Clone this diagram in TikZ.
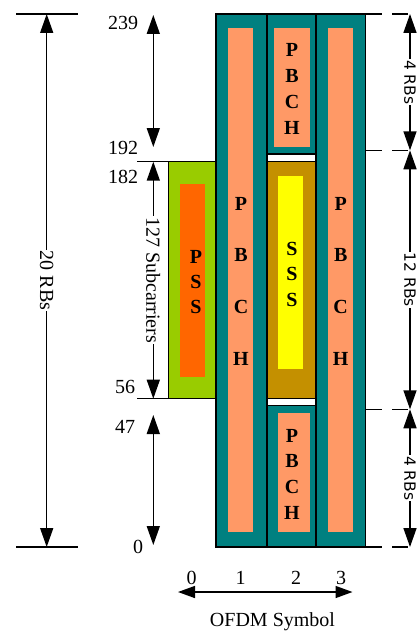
\documentclass[tikz,border=0pt]{standalone}
\usepackage{fontspec}
\setmainfont{Liberation Serif}
\newfontfamily\rbfont{DejaVu Sans}
\usetikzlibrary{arrows.meta}
\definecolor{SBTeal}{HTML}{008080}
\definecolor{SBSalmon}{HTML}{FF9966}
\definecolor{SBLime}{HTML}{99CC00}
\definecolor{SBOrange}{HTML}{FF6600}
\definecolor{SBGold}{HTML}{C49000}
\definecolor{SBYellow}{HTML}{FFFF00}

\begin{document}
\begin{tikzpicture}[x=1pt,y=-1pt,
  slot/.style={draw=black,line width=1.1pt},
  dimarrow/.style={{Triangle[length=19pt,width=13pt]}-{Triangle[length=19pt,width=13pt]},line width=1.5pt},
  axisarrow/.style={{Triangle[length=17pt,width=12pt]}-{Triangle[length=17pt,width=12pt]},line width=1.5pt},
  tickline/.style={line width=1.5pt},
  dashline/.style={line width=1.6pt,dash pattern=on 16pt off 10pt},
  num/.style={font=\fontsize{20}{20}\selectfont,inner sep=0pt},
  dimlabel/.style={font=\fontsize{20}{20}\selectfont,rotate=-90,fill=white,inner sep=1pt},
  rblabel/.style={font=\rbfont\fontsize{15.5}{15.5}\selectfont,rotate=-90,fill=white,inner sep=1pt},
  chan/.style={font=\fontsize{20}{#1}\selectfont\bfseries,align=center,inner sep=0pt}]
\path[use as bounding box] (0,0) rectangle (416,634);
% PSS
\fill[SBLime,draw=black,line width=1.1pt] (168.3,161.7) rectangle (216,398.7);
\fill[SBOrange] (180,184) rectangle (205,376.7);
% symbol 1
\fill[SBTeal,slot] (216,14) rectangle (267,547);
\fill[SBSalmon] (228.3,28) rectangle (253.3,531.7);
% symbol 2
\fill[SBTeal,slot] (267,14) rectangle (316,154);
\fill[SBSalmon] (274,28) rectangle (310,146.7);
\fill[SBGold,slot] (267,161.5) rectangle (316,398.5);
\fill[SBYellow] (278.3,175.7) rectangle (302.7,369);
\fill[SBTeal,slot] (267,405.5) rectangle (316,547);
\fill[SBSalmon] (278,413.3) rectangle (310,531.7);
% symbol 3
\fill[SBTeal,slot] (316,14) rectangle (365.5,547);
\fill[SBSalmon] (328,28) rectangle (353.3,531.7);
% channel letters
\node[chan=51.7] (pbchA) at (241,281) {P\\B\\C\\H};
\node[chan=51.7] (pbchC) at (340.7,281) {P\\B\\C\\H};
\node[chan=25.7] (pbchT) at (292,89) {P\\B\\C\\H};
\node[chan=25.5] (sss) at (292,274) {S\\S\\S};
\node[chan=25.7] (pbchB) at (292,474) {P\\B\\C\\H};
\node[chan=25] (pss) at (196,282) {P\\S\\S};

% left: 20 RBs
\draw[tickline] (16,14) -- (78,14);
\draw[tickline] (16,547) -- (78,547);
\coordinate (rbTop) at (46.7,14);
\coordinate (rbBot) at (46.7,547);
\draw[dimarrow] (rbTop) -- node[dimlabel] (rbAll) {20 RBs} (rbBot);

% subcarrier numbers
\node[num] (n239) at (123,23) {239};
\node[num] (n192) at (123,148) {192};
\node[num] (n182) at (123,177) {182};
\node[num] (n56) at (125,387) {56};
\node[num] (n47) at (125,427) {47};
\node[num] (n0) at (138,547) {0};
\draw[tickline] (137,161.7) -- (168.3,161.7);
\draw[tickline] (137,398.7) -- (168.3,398.7);
\coordinate (scA) at (153.3,15);
\coordinate (scB) at (153.3,147);
\coordinate (scC) at (153.3,161.7);
\coordinate (scD) at (153.3,398.7);
\coordinate (scE) at (153.3,415);
\coordinate (scF) at (153.3,545);
\draw[dimarrow] (scA) -- (scB);
\draw[dimarrow] (scC) -- node[dimlabel] (subc) {127 Subcarriers} (scD);
\draw[dimarrow] (scE) -- (scF);

% right: RB split
\draw[dashline] (366,14) -- (416,14);
\draw[dashline] (366,150.3) -- (416,150.3);
\draw[dashline] (366,409.3) -- (416,409.3);
\draw[dashline] (366,547) -- (416,547);
\coordinate (rA) at (410,14);
\coordinate (rB) at (410,150.3);
\coordinate (rC) at (410,409.3);
\coordinate (rD) at (410,547);
\draw[dimarrow] (rA) -- node[rblabel] (rbTopLbl) {4 RBs} (rB);
\draw[dimarrow] (rB) -- node[rblabel] (rbMidLbl) {12 RBs} (rC);
\draw[dimarrow] (rC) -- node[rblabel] (rbBotLbl) {4 RBs} (rD);

% OFDM symbol axis
\node[num] (s0) at (191.7,578) {0};
\node[num] (s1) at (240.5,578) {1};
\node[num] (s2) at (296,578) {2};
\node[num] (s3) at (341,578) {3};
\coordinate (axL) at (178,592);
\coordinate (axR) at (352.5,592);
\draw[axisarrow] (axL) -- (axR);
\node[font=\fontsize{20}{20}\selectfont] (ofdm) at (272.5,621.5) {OFDM Symbol};
\end{tikzpicture}
\end{document}
